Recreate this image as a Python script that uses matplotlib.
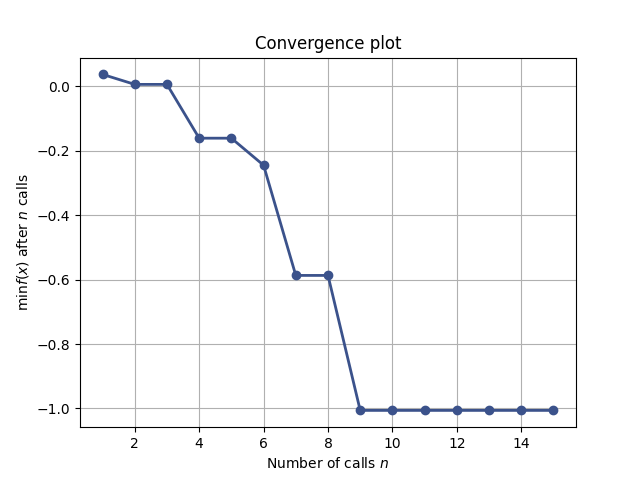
import numpy as np
import matplotlib
matplotlib.use("Agg")
import matplotlib.pyplot as plt
from matplotlib import cm

# Convergence data
n_calls = [1, 2, 3, 4, 5, 6, 7, 8, 9, 10, 11, 12, 13, 14, 15]
min_f = [0.037, 0.006, 0.006, -0.161, -0.161, -0.245, -0.587, -0.587,
         -1.006, -1.006, -1.006, -1.006, -1.006, -1.006, -1.006]

color = cm.viridis(0.25)

fig, ax = plt.subplots(figsize=(6.4, 4.8), dpi=100)
ax.plot(n_calls, min_f, c=color, marker=".", markersize=12, lw=2)
ax.set_title("Convergence plot")
ax.set_xlabel("Number of calls $n$")
ax.set_ylabel(r"$\min f(x)$ after $n$ calls")
ax.grid()
fig.savefig("out.png", dpi=100)
